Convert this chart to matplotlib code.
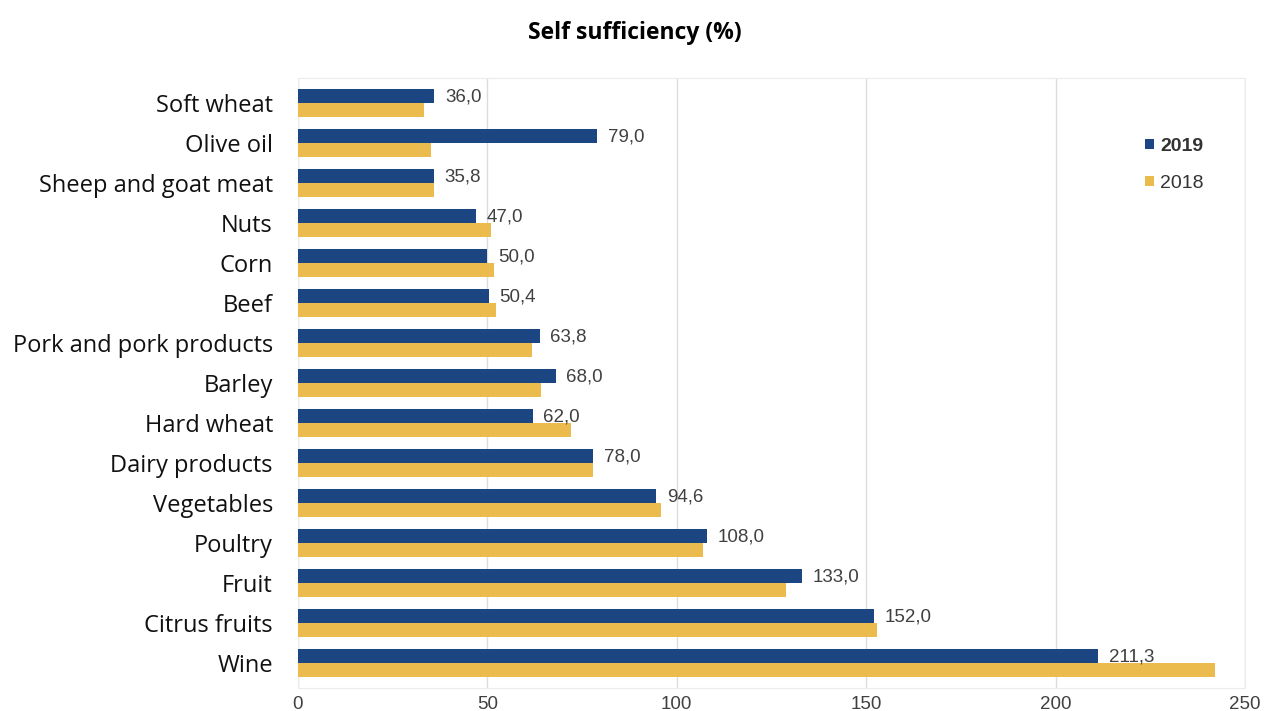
# Self sufficiency bar chart, 2019 vs 2018.

import matplotlib.pyplot as plt
import numpy as np

products = ['Soft wheat', 'Olive oil', 'Sheep and goat meat', 'Nuts', 'Corn',
            'Beef', 'Pork and pork products', 'Barley', 'Hard wheat',
            'Dairy products', 'Vegetables', 'Poultry', 'Fruit',
            'Citrus fruits', 'Wine']
vals2019 = [36.0, 79.0, 35.8, 47.0, 50.0, 50.4, 63.8, 68.0, 62.0, 78.0,
            94.6, 108.0, 133.0, 152.0, 211.3]
vals2018 = [33.3, 35.1, 35.9, 51.0, 51.7, 52.3, 61.8, 64.1, 72.0, 77.9,
            95.8, 106.9, 128.8, 152.9, 242.0]
xticks = [0, 50, 100, 150, 200, 250]

blue = '#1b4682'
gold = '#ecbb4e'

fig = plt.figure(figsize=(12.7, 7.11), dpi=100)
ax = fig.add_axes([0.2346, 0.0323, 0.7457, 0.8580])

y = np.arange(len(products))
h = 0.35
ax.barh(y - h / 2, vals2019, height=h, color=blue, label='2019', zorder=3)
ax.barh(y + h / 2, vals2018, height=h, color=gold, label='2018', zorder=3)

for yi, v in zip(y, vals2019):
    ax.text(v + 2.8, yi - h / 2 + 0.03, ('%.1f' % v).replace('.', ','),
            fontsize=13.5, color='#404040', va='center', ha='left',
            family='Liberation Sans')

ax.set_ylim(len(products) - 1 + 0.625, -0.625)
ax.set_xlim(0, 250)
ax.set_yticks(y)
ax.set_yticklabels(products, fontsize=17, family='Open Sans', color='#111111')
ax.set_xticks(xticks)
ax.set_xticklabels([str(t) for t in xticks], fontsize=13.5,
                   family='Liberation Sans', color='#404040')
ax.tick_params(axis='both', length=0)
ax.tick_params(axis='y', pad=18)
ax.tick_params(axis='x', pad=6)
ax.grid(axis='x', color='#dcdcdc', linewidth=1, zorder=0)
for s in ax.spines.values():
    s.set_color('#ececec')

leg = ax.legend(loc='upper right', bbox_to_anchor=(0.975, 0.93), frameon=False,
                handlelength=0.5, handleheight=0.4,
                handletextpad=0.3, labelspacing=1.0,
                prop={'family': 'Liberation Sans', 'size': 14})
leg.get_texts()[0].set_fontweight('bold')
for t in leg.get_texts():
    t.set_color('#333333')

fig.text(0.5, 0.953, 'Self sufficiency (%)', ha='center', va='center',
         fontsize=16.5, fontweight='bold', family='Open Sans')

fig.savefig('out.png', dpi=100)
